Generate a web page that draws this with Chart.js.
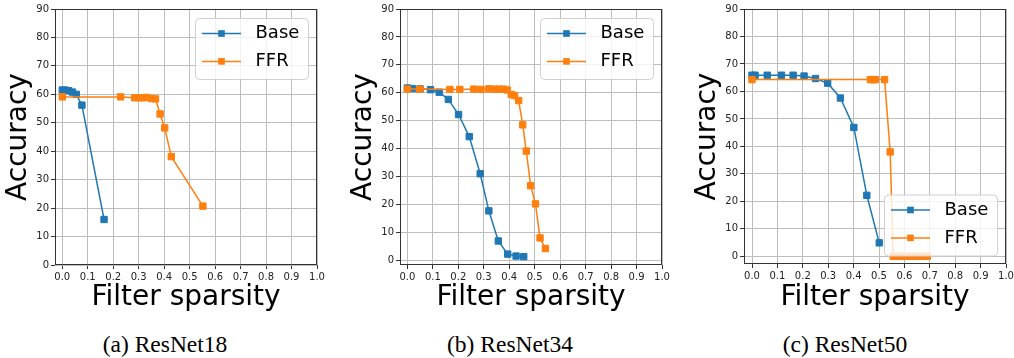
<!DOCTYPE html>
<html>
<head>
<meta charset="utf-8">
<script src="https://cdn.jsdelivr.net/npm/chart.js@4.4.1/dist/chart.umd.min.js"></script>
<style>
  html, body { margin: 0; padding: 0; background: #fff; overflow: hidden; }
  #wrap { position: relative; width: 1014px; height: 358px; }
  canvas { position: absolute; top: 0; }
  .cap {
    position: absolute; top: 331px; transform: translateX(-50%);
    font-family: 'Liberation Serif', serif; font-size: 23.5px; line-height: normal;
    white-space: nowrap; color: #000;
  }
</style>
</head>
<body>
<div id="wrap">
  <canvas id="c18" width="340" height="320" style="left:0px"></canvas>
  <canvas id="c34" width="340" height="320" style="left:345px"></canvas>
  <canvas id="c50" width="340" height="320" style="left:689px"></canvas>
  <div class="cap" style="left:165px">(a) ResNet18</div>
  <div class="cap" style="left:510px">(b) ResNet34</div>
  <div class="cap" style="left:845px">(c) ResNet50</div>
</div>
<script>
// tick labels
const xTicks = [0.0, 0.1, 0.2, 0.3, 0.4, 0.5, 0.6, 0.7, 0.8, 0.9, 1.0];
const yTicks = [0, 10, 20, 30, 40, 50, 60, 70, 80, 90];
const seriesNames = ['Base', 'FFR'];

// ResNet18
const baseX18 = [0.0, 0.01, 0.025, 0.04, 0.055, 0.077, 0.164];
const baseY18 = [61.5, 61.5, 61.3, 60.8, 60.0, 56.2, 16.0];
const ffrX18 = [0.0, 0.229, 0.284, 0.300, 0.315, 0.330, 0.350, 0.366, 0.384, 0.402, 0.428, 0.552];
const ffrY18 = [59.1, 59.1, 58.8, 58.8, 58.8, 58.9, 58.5, 58.4, 53.1, 48.2, 38.1, 20.7];

// ResNet34
const baseX34 = [0.0, 0.02, 0.05, 0.091, 0.125, 0.161, 0.201, 0.243, 0.286, 0.320, 0.357, 0.394, 0.427, 0.457];
const baseY34 = [61.7, 61.5, 61.4, 61.1, 60.2, 57.6, 52.2, 44.3, 31.0, 17.7, 6.9, 2.2, 1.5, 1.3];
const ffrX34 = [0.0, 0.049, 0.167, 0.206, 0.261, 0.289, 0.320, 0.341, 0.360, 0.377, 0.392, 0.408, 0.421, 0.437, 0.453, 0.467, 0.484, 0.503, 0.521, 0.542];
const ffrY34 = [61.3, 61.3, 61.2, 61.2, 61.3, 61.2, 61.4, 61.3, 61.3, 61.3, 61.0, 59.4, 59.0, 57.2, 48.5, 39.1, 26.7, 20.2, 8.0, 4.2];

// ResNet50
const baseX50 = [0.0, 0.012, 0.06, 0.116, 0.162, 0.205, 0.25, 0.298, 0.348, 0.401, 0.452, 0.501];
const baseY50 = [65.9, 65.9, 65.9, 65.9, 65.9, 65.6, 64.7, 63.0, 57.6, 46.9, 22.2, 4.9];
const ffrX50 = [0.0, 0.466, 0.477, 0.486, 0.522, 0.544, 0.556, 0.57, 0.585, 0.60, 0.615, 0.63, 0.645, 0.66, 0.675, 0.69];
const ffrY50 = [64.3, 64.3, 64.3, 64.3, 64.3, 38.0, 0, 0, 0, 0, 0, 0, 0, 0, 0, 0];

const BLUE = '#1f77b4';
const ORANGE = '#ff7f0e';

Chart.defaults.font.family = 'DejaVu Sans';
Chart.defaults.color = '#222';

function pts(xs, ys) {
    return xs.map((x, i) => ({ x: x, y: ys[i] }));
}

function roundRect(ctx, x, y, w, h, r) {
    ctx.beginPath();
    ctx.moveTo(x + r, y);
    ctx.lineTo(x + w - r, y);
    ctx.arcTo(x + w, y, x + w, y + r, r);
    ctx.lineTo(x + w, y + h - r);
    ctx.arcTo(x + w, y + h, x + w - r, y + h, r);
    ctx.lineTo(x + r, y + h);
    ctx.arcTo(x, y + h, x, y + h - r, r);
    ctx.lineTo(x, y + r);
    ctx.arcTo(x, y, x + r, y, r);
    ctx.closePath();
}

// frame around plot + matplotlib style legend inside the axes
const framePlugin = {
    id: 'frameLegend',
    afterDatasetsDraw(chart, args, opts) {
        const ctx = chart.ctx;
        const a = chart.chartArea;
        ctx.save();
        ctx.strokeStyle = '#333';
        ctx.lineWidth = 1;
        ctx.strokeRect(Math.round(a.left) + 0.5, Math.round(a.top) + 0.5,
                       Math.round(a.right - a.left) - 1, Math.round(a.bottom - a.top) - 1);

        // legend box
        const w = 113, h = 61;
        const bx = a.right - 9 - w;
        const by = opts.loc === 'lower' ? a.bottom - 8.5 - h : a.top + 9;
        roundRect(ctx, bx + 0.5, by + 0.5, w, h, 4);
        ctx.fillStyle = 'rgba(255,255,255,0.8)';
        ctx.fill();
        ctx.strokeStyle = '#d0d0d0';
        ctx.stroke();

        const rows = [15.5, 43.4];
        chart.data.datasets.forEach((ds, i) => {
            const yy = by + rows[i];
            ctx.strokeStyle = ds.borderColor;
            ctx.lineWidth = 1.5;
            ctx.beginPath();
            ctx.moveTo(bx + 7, yy);
            ctx.lineTo(bx + 46, yy);
            ctx.stroke();
            ctx.fillStyle = ds.borderColor;
            ctx.fillRect(bx + 26.5 - 3.3, yy - 3.3, 6.6, 6.6);
            ctx.fillStyle = '#000';
            ctx.font = '18px "DejaVu Sans"';
            ctx.textBaseline = 'middle';
            ctx.textAlign = 'left';
            ctx.fillText(ds.label, bx + 60.5, yy);
        });
        ctx.restore();
    }
};

function makePanel(id, bx, by, fx, fy, yMin, xMin, xHeight, legendLoc) {
    const ctx = document.getElementById(id).getContext('2d');
    const dsStyle = (color) => ({
        borderColor: color,
        backgroundColor: color,
        pointBackgroundColor: color,
        pointBorderColor: color,
        borderWidth: 1.5,
        pointStyle: 'rect',
        pointRadius: 4.5,
        pointBorderWidth: 1,
        showLine: true,
        tension: 0
    });
    return new Chart(ctx, {
        type: 'scatter',
        data: {
            datasets: [
                Object.assign({ label: seriesNames[0], data: pts(bx, by), order: 2 }, dsStyle(BLUE)),
                Object.assign({ label: seriesNames[1], data: pts(fx, fy), order: 1 }, dsStyle(ORANGE))
            ]
        },
        options: {
            responsive: false,
            animation: false,
            events: [],
            layout: { padding: { left: 0, right: 23, top: 9, bottom: 0 } },
            plugins: {
                legend: { display: false },
                tooltip: { enabled: false },
                frameLegend: { loc: legendLoc }
            },
            scales: {
                x: {
                    type: 'linear',
                    min: xMin,
                    max: 1.0,
                    afterBuildTicks: (s) => { s.ticks = xTicks.map(v => ({ value: v })); },
                    afterFit: (s) => { s.height = xHeight; },
                    ticks: {
                        callback: (v) => Number(v).toFixed(1),
                        font: { size: 10 },
                        padding: 2,
                        maxRotation: 0,
                        autoSkip: false
                    },
                    grid: { color: '#bdbdbd', lineWidth: 1, tickLength: 4, tickColor: '#333' },
                    border: { display: false },
                    title: {
                        display: true,
                        text: 'Filter sparsity',
                        font: { size: 28 },
                        color: '#000',
                        padding: { top: 0, bottom: 5 }
                    }
                },
                y: {
                    type: 'linear',
                    min: yMin,
                    max: 90,
                    afterBuildTicks: (s) => { s.ticks = yTicks.map(v => ({ value: v })); },
                    afterFit: (s) => { s.width = 55; },
                    ticks: {
                        font: { size: 10 },
                        padding: 2,
                        autoSkip: false
                    },
                    grid: { color: '#bdbdbd', lineWidth: 1, tickLength: 4, tickColor: '#333' },
                    border: { display: false },
                    title: {
                        display: true,
                        text: 'Accuracy',
                        font: { size: 28 },
                        color: '#000',
                        padding: { top: 2, bottom: 0 }
                    }
                }
            }
        },
        plugins: [framePlugin]
    });
}

makePanel('c18', baseX18, baseY18, ffrX18, ffrY18, 0, -0.0286, 55, 'upper');
makePanel('c34', baseX34, baseY34, ffrX34, ffrY34, -1.7, -0.029, 55, 'upper');
makePanel('c50', baseX50, baseY50, ffrX50, ffrY50, -2.8, -0.0315, 56, 'lower');
</script>
</body>
</html>
